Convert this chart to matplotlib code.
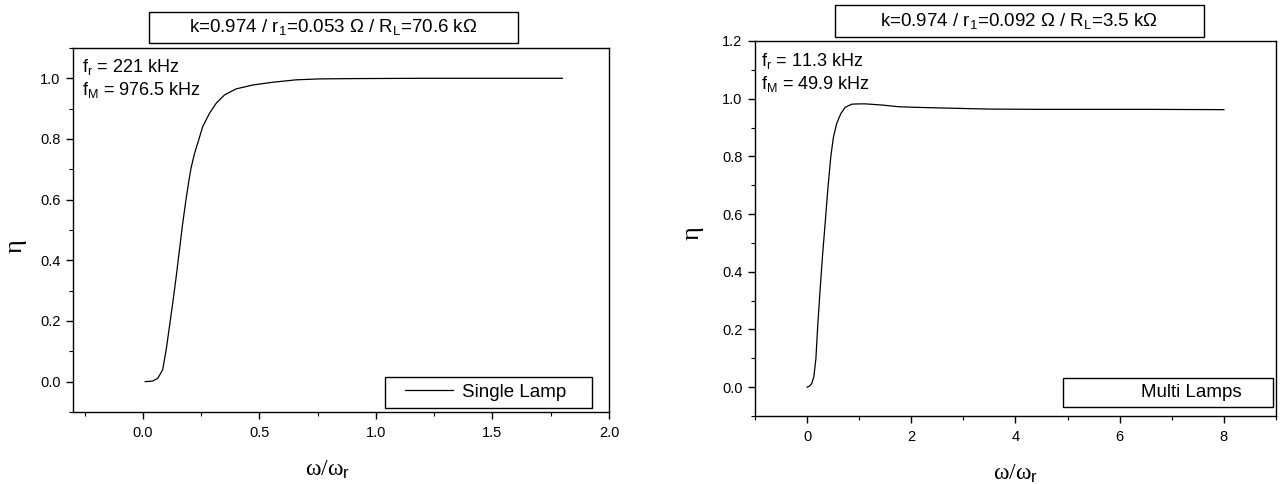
import matplotlib
matplotlib.use("Agg")
import matplotlib.pyplot as plt
from matplotlib.patches import Rectangle
from matplotlib.ticker import MultipleLocator, FormatStrFormatter

plt.rcParams['font.family'] = ['Liberation Sans', 'DejaVu Sans']
plt.rcParams['mathtext.fontset'] = 'custom'
plt.rcParams['mathtext.rm'] = 'Liberation Sans'
plt.rcParams['mathtext.it'] = 'Liberation Sans:italic'

# single lamp curve
single_x = [0.01, 0.042, 0.064, 0.085, 0.10, 0.114, 0.128, 0.143, 0.157, 0.171,
            0.186, 0.197, 0.207, 0.221, 0.236, 0.257, 0.286, 0.315, 0.350, 0.40,
            0.472, 0.558, 0.658, 0.758, 0.9, 1.2, 1.5, 1.8]
single_eta = [0.0, 0.002, 0.011, 0.039, 0.105, 0.181, 0.258, 0.346, 0.434, 0.522,
              0.605, 0.660, 0.705, 0.750, 0.788, 0.841, 0.885, 0.918, 0.945, 0.965,
              0.978, 0.987, 0.995, 0.998, 0.999, 1.0, 1.0, 1.0]

# multi lamps curve
multi_x = [0.0, 0.05, 0.09, 0.13, 0.17, 0.205, 0.25, 0.295, 0.347, 0.397, 0.455,
           0.507, 0.57, 0.65, 0.73, 0.86, 1.0, 1.12, 1.44, 1.76, 2.1, 2.53, 3.0,
           3.49, 4.5, 5.5, 6.5, 8.0]
multi_eta = [0.0, 0.004, 0.013, 0.036, 0.100, 0.215, 0.337, 0.452, 0.568, 0.683,
             0.799, 0.868, 0.915, 0.949, 0.970, 0.981, 0.982, 0.982, 0.978, 0.972,
             0.970, 0.968, 0.966, 0.964, 0.963, 0.963, 0.963, 0.962]

titles = ["k=0.974 / r$_1$=0.053 \u03a9 / R$_\\mathrm{L}$=70.6 k\u03a9",
          "k=0.974 / r$_1$=0.092 \u03a9 / R$_\\mathrm{L}$=3.5 k\u03a9"]
freq_notes = [["f$_\\mathrm{r}$ = 221 kHz", "f$_\\mathrm{M}$ = 976.5 kHz"],
              ["f$_\\mathrm{r}$ = 11.3 kHz", "f$_\\mathrm{M}$ = 49.9 kHz"]]
legend_labels = ["Single Lamp", "Multi Lamps"]

fig = plt.figure(figsize=(12.82, 4.84), dpi=100)
ax1 = fig.add_axes([0.0569, 0.1488, 0.4181, 0.7521])
ax2 = fig.add_axes([0.5889, 0.1405, 0.4064, 0.7748])

serif = ['Liberation Serif', 'DejaVu Serif']


def style_axes(ax):
    for s in ax.spines.values():
        s.set_linewidth(1.0)
    ax.tick_params(which='both', direction='out', top=False, right=False,
                   labelsize=10.5, colors='black')
    ax.tick_params(which='major', length=5, width=1.0)
    ax.tick_params(which='minor', length=3, width=0.8)
    ax.tick_params(axis='y', pad=4)
    ax.tick_params(axis='x', pad=5)
    ax.set_xlabel("\u03c9/\u03c9$_\\mathrm{r}$", family=serif, fontsize=17)
    ax.set_ylabel("\u03b7", family=serif, fontsize=19)


# left panel
ax1.plot(single_x, single_eta, color='black', lw=0.9, label=legend_labels[0])
ax1.set_xlim(-0.3, 2.0)
ax1.set_ylim(-0.1, 1.1)
ax1.xaxis.set_major_locator(MultipleLocator(0.5))
ax1.xaxis.set_minor_locator(MultipleLocator(0.25))
ax1.yaxis.set_major_locator(MultipleLocator(0.2))
ax1.yaxis.set_minor_locator(MultipleLocator(0.1))
ax1.xaxis.set_major_formatter(FormatStrFormatter('%.1f'))
ax1.yaxis.set_major_formatter(FormatStrFormatter('%.1f'))
style_axes(ax1)
ax1.xaxis.set_label_coords(0.476, -0.126)
ax1.yaxis.set_label_coords(-0.086, 0.456)
ax1.text(0.0168, 0.934, freq_notes[0][0], transform=ax1.transAxes, fontsize=13, va='baseline')
ax1.text(0.0168, 0.871, freq_notes[0][1], transform=ax1.transAxes, fontsize=13, va='baseline')
ax1.add_patch(Rectangle((0.582, 0.011), 0.386, 0.085, transform=ax1.transAxes,
                        fill=False, ec='black', lw=1.0))
ax1.legend(loc='center left', bbox_to_anchor=(0.619, 0.0536), frameon=False,
           fontsize=13.5, borderpad=0, borderaxespad=0, handlelength=2.6, handletextpad=0.48)

# right panel
ax2.plot(multi_x, multi_eta, color='black', lw=0.9, label=legend_labels[1])
ax2.set_xlim(-1, 9)
ax2.set_ylim(-0.1, 1.2)
ax2.xaxis.set_major_locator(MultipleLocator(2))
ax2.xaxis.set_minor_locator(MultipleLocator(1))
ax2.yaxis.set_major_locator(MultipleLocator(0.2))
ax2.yaxis.set_minor_locator(MultipleLocator(0.1))
ax2.xaxis.set_major_formatter(FormatStrFormatter('%d'))
ax2.yaxis.set_major_formatter(FormatStrFormatter('%.1f'))
style_axes(ax2)
ax2.xaxis.set_label_coords(0.501, -0.123)
ax2.yaxis.set_label_coords(-0.098, 0.488)
ax2.text(0.0115, 0.933, freq_notes[1][0], transform=ax2.transAxes, fontsize=13, va='baseline')
ax2.text(0.0115, 0.872, freq_notes[1][1], transform=ax2.transAxes, fontsize=13, va='baseline')
ax2.add_patch(Rectangle((0.591, 0.024), 0.403, 0.077, transform=ax2.transAxes,
                        fill=False, ec='black', lw=1.0))
leg2 = ax2.legend(loc='center left', bbox_to_anchor=(0.63, 0.0627), frameon=False,
                  fontsize=13.5, borderpad=0, borderaxespad=0, handlelength=2.6, handletextpad=0.48)
leg2.legend_handles[0].set_visible(False)

# boxed titles
fig.add_artist(Rectangle((0.1162, 0.9112), 0.2879, 0.0640, transform=fig.transFigure,
                         fill=False, ec='black', lw=1.0))
fig.text(0.2601, 0.9432, titles[0], ha='center', va='center', fontsize=13.5)
fig.add_artist(Rectangle((0.6513, 0.9236), 0.2879, 0.0661, transform=fig.transFigure,
                         fill=False, ec='black', lw=1.0))
fig.text(0.7952, 0.9566, titles[1], ha='center', va='center', fontsize=13.5)

fig.savefig("out.png", dpi=100)
